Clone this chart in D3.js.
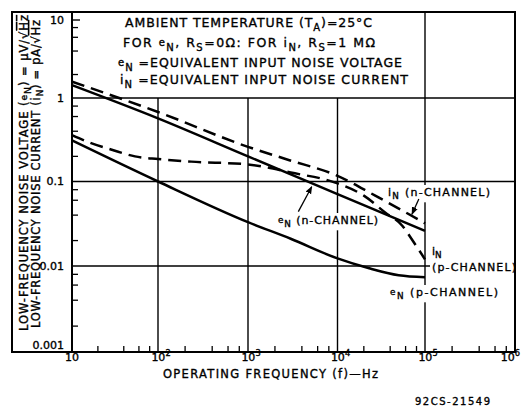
<!DOCTYPE html>
<html><head><meta charset="utf-8">
<script src="https://cdn.jsdelivr.net/npm/d3@7/dist/d3.min.js"></script>
<style>
body{margin:0;background:#fff;}
svg{display:block;}
text{font-family:"DejaVu Sans",sans-serif;fill:#000;stroke:#000;stroke-width:0.35px;}
</style></head><body>
<svg id="chart" width="522" height="409"></svg>
<script>
// ---------- data ----------
const xTickValues = [10, 100, 1000, 10000, 100000, 1000000];
const xTickBase = ["10", "10", "10", "10", "10", "10"];
const xTickExp = ["", "2", "3", "4", "5", "6"];
const yTickValues = [0.001, 0.01, 0.1, 1, 10];
const yTickLabels = ["0.001", "0.01", "0.1", "1", "10"];
const minorMultipliers = [2, 4, 6, 8];

// eN (n-CHANNEL), solid
const eNnFreq = [10, 100, 1000, 10000, 100000];
const eNnVal  = [1.46, 0.57, 0.2, 0.071, 0.026];
// iN (n-CHANNEL), dashed
const iNnFreq = [10, 100, 1000, 2900, 10000, 27000, 100000];
const iNnVal  = [1.62, 0.68, 0.26, 0.18, 0.117, 0.068, 0.032];
// iN (p-CHANNEL), dashed
const iNpFreq = [10, 17, 29, 54, 100, 234, 1000, 3000, 10000, 20000, 35000, 55000, 70000, 100000];
const iNpVal  = [0.36, 0.286, 0.24, 0.2, 0.186, 0.173, 0.16, 0.128, 0.095, 0.068, 0.043, 0.03, 0.021, 0.012];
// eN (p-CHANNEL), solid
const eNpFreq = [10, 100, 1000, 3000, 10000, 23000, 50000, 100000];
const eNpVal  = [0.31, 0.1, 0.033, 0.021, 0.0123, 0.0094, 0.0078, 0.0074];

// annotation arrows (data space): [tail, tip]
const arrowTails = [[3650, 0.044], [85000, 0.062]];
const arrowTips  = [[5150, 0.0868], [71000, 0.041]];

// ---------- layout ----------
const svg = d3.select("#chart");
const x = d3.scaleLog().domain(xTickValues).range([72, 158, 248, 337.5, 425, 515]);
const y = d3.scaleLog().domain(yTickValues).range([352, 266, 181.5, 98, 20]);
const frameTop = 12, frameLeft = 12;
const x0 = x(xTickValues[0]), x1 = x(xTickValues[xTickValues.length - 1]);
const yB = y(yTickValues[0]);

const defs = svg.append("defs");
defs.append("marker").attr("id", "ah").attr("viewBox", "0 0 10 10")
  .attr("refX", 9).attr("refY", 5).attr("markerWidth", 6).attr("markerHeight", 6)
  .attr("orient", "auto").append("path").attr("d", "M0,1L10,5L0,9Z").attr("fill", "#000");

const gGrid = svg.append("g");
const gBg = svg.append("g");
const gLines = svg.append("g");
const gFrame = svg.append("g");
const gText = svg.append("g");

// gridlines
gGrid.selectAll("line.h").data([0.01, 0.1, 1]).join("line").attr("class", "h")
  .attr("x1", x0).attr("x2", x1).attr("y1", d => y(d)).attr("y2", d => y(d))
  .attr("stroke", "#000").attr("stroke-width", 1.4);
gGrid.selectAll("line.v").data([100, 1000, 10000, 100000]).join("line").attr("class", "v")
  .attr("x1", d => x(d)).attr("x2", d => x(d))
  .attr("y1", d => d === 100000 ? frameTop : y(1)).attr("y2", yB)
  .attr("stroke", "#000").attr("stroke-width", 1.4);

// minor ticks
const xMinor = [];
xTickValues.slice(0, -1).forEach(d => minorMultipliers.forEach(m => xMinor.push(d * m)));
gGrid.selectAll("line.xm").data(xMinor).join("line").attr("class", "xm")
  .attr("x1", d => x(d)).attr("x2", d => x(d)).attr("y1", yB).attr("y2", yB - 6)
  .attr("stroke", "#000").attr("stroke-width", 1.3);
const yMinor = [];
yTickValues.slice(0, -1).forEach(d => minorMultipliers.forEach(m => yMinor.push(d * m)));
gGrid.selectAll("line.ym").data(yMinor).join("line").attr("class", "ym")
  .attr("x1", x0).attr("x2", x0 + 6).attr("y1", d => y(d)).attr("y2", d => y(d))
  .attr("stroke", "#000").attr("stroke-width", 1.3);
gGrid.append("line").attr("x1", x0).attr("x2", x0 + 8)
  .attr("y1", y(yTickValues[yTickValues.length - 1])).attr("y2", y(yTickValues[yTickValues.length - 1]))
  .attr("stroke", "#000").attr("stroke-width", 1.4);

// curves
const series = [
  {f: eNnFreq, v: eNnVal, dash: null},
  {f: iNnFreq, v: iNnVal, dash: "13,7"},
  {f: iNpFreq, v: iNpVal, dash: "13,7"},
  {f: eNpFreq, v: eNpVal, dash: null}
];
const line = d3.line().x(d => x(d[0])).y(d => y(d[1])).curve(d3.curveMonotoneX);
series.forEach(s => {
  gLines.append("path").attr("d", line(s.f.map((f, i) => [f, s.v[i]])))
    .attr("fill", "none").attr("stroke", "#000").attr("stroke-width", 2.5)
    .attr("stroke-dasharray", s.dash);
});

// arrows
arrowTails.forEach((t, i) => {
  gLines.append("line").attr("x1", x(t[0])).attr("y1", y(t[1]))
    .attr("x2", x(arrowTips[i][0])).attr("y2", y(arrowTips[i][1]))
    .attr("stroke", "#000").attr("stroke-width", 1.3).attr("marker-end", "url(#ah)");
});

// text helper
function richText(parent, parts, o) {
  const size = o.size || 11;
  const t = parent.append("text").attr("x", o.x || 0).attr("y", o.y || 0)
    .attr("font-size", size).attr("text-anchor", o.anchor || "start");
  if (o.transform) t.attr("transform", o.transform);
  let cur = 0;
  parts.forEach(p => {
    const [s, kind] = Array.isArray(p) ? p : [p, null];
    let off = 0, fs = null;
    if (kind === "sub") { off = size * 0.3; fs = size * 0.8; }
    else if (kind === "sup") { off = -size * 0.45; fs = size * 0.75; }
    else if (kind === "small") { off = -size * 0.1; fs = size * 0.8; }
    const ts = t.append("tspan").text(s).attr("dy", off - cur);
    cur = off;
    if (fs) ts.attr("font-size", fs);
    if (kind === "over") ts.style("text-decoration", "overline");
  });
  if (o.len) t.attr("textLength", o.len).attr("lengthAdjust", "spacing");
  if (o.bg) {
    const b = t.node().getBBox();
    gBg.append("rect").attr("x", b.x - 2).attr("y", b.y - 1).attr("width", b.width + 4)
      .attr("height", b.height + 2).attr("fill", "#fff");
  }
  return t;
}

// annotation box text
richText(gText, ["AMBIENT TEMPERATURE (T", ["A", "sub"], ")=25°C"], {x: 125, y: 27, size: 12.5, len: 247});
richText(gText, ["FOR ", ["e", "small"], ["N", "sub"], ", R", ["S", "sub"], "=0Ω:  FOR i", ["N", "sub"], ", R", ["S", "sub"], "=1 MΩ"], {x: 123, y: 47, size: 12.5, len: 252});
richText(gText, [["e", "small"], ["N", "sub"], " =EQUIVALENT INPUT NOISE VOLTAGE"], {x: 118, y: 67, size: 12.5, len: 284});
richText(gText, ["i", ["N", "sub"], " =EQUIVALENT INPUT NOISE CURRENT"], {x: 120, y: 84, size: 12.5, len: 288});

// curve labels
richText(gText, ["i", ["N", "sub"], " (n-CHANNEL)"], {x: 388, y: 196, size: 11, len: 102, bg: true});
richText(gText, [["e", "small"], ["N", "sub"], " (n-CHANNEL)"], {x: 278, y: 224, size: 11, len: 100, bg: true});
richText(gText, ["i", ["N", "sub"]], {x: 432, y: 255, size: 11, bg: true});
richText(gText, ["(p-CHANNEL)"], {x: 432, y: 271, size: 11, len: 84, bg: true});
richText(gText, [["e", "small"], ["N", "sub"], " (p-CHANNEL)"], {x: 390, y: 296, size: 11, len: 108, bg: true});

// y tick labels
yTickValues.forEach((v, i) => {
  const yy = i === 0 ? y(v) - 3 : y(v) + 3.5;
  richText(gText, [yTickLabels[i]], {x: 64, y: yy, size: 11, anchor: "end"});
});
// x tick labels
xTickValues.forEach((v, i) => {
  const parts = xTickExp[i] ? [xTickBase[i], [xTickExp[i], "sup"]] : [xTickBase[i]];
  const t = richText(gText, parts, {x: x(v) + (xTickExp[i] ? 3 : 0), y: 361, size: 11, anchor: "middle"});
  const b = t.node().getBBox();
  if (b.x + b.width > 520) t.attr("x", x(v) + (xTickExp[i] ? 3 : 0) - (b.x + b.width - 520));
});

// axis titles
richText(gText, ["LOW-FREQUENCY NOISE VOLTAGE (", ["e", "small"], ["N", "sub"], ") = µV/√", ["Hz", "over"]],
  {transform: "translate(28,331) rotate(-90)", size: 11.5, len: 316});
richText(gText, ["LOW-FREQUENCY NOISE CURRENT (i", ["N", "sub"], ") = pA/√", ["Hz", "over"]],
  {transform: "translate(40,328) rotate(-90)", size: 11.5, len: 308});
richText(gText, ["OPERATING FREQUENCY (f)—Hz"], {x: 163, y: 378, size: 11.5, len: 215});
richText(gText, ["92CS-21549"], {x: 415, y: 405, size: 10, len: 75});

// frame
gFrame.append("rect").attr("x", frameLeft).attr("y", frameTop)
  .attr("width", x1 - frameLeft).attr("height", yB - frameTop)
  .attr("fill", "none").attr("stroke", "#000").attr("stroke-width", 2);
gFrame.append("line").attr("x1", x0).attr("x2", x0).attr("y1", frameTop).attr("y2", yB)
  .attr("stroke", "#000").attr("stroke-width", 2);
</script>
</body></html>
